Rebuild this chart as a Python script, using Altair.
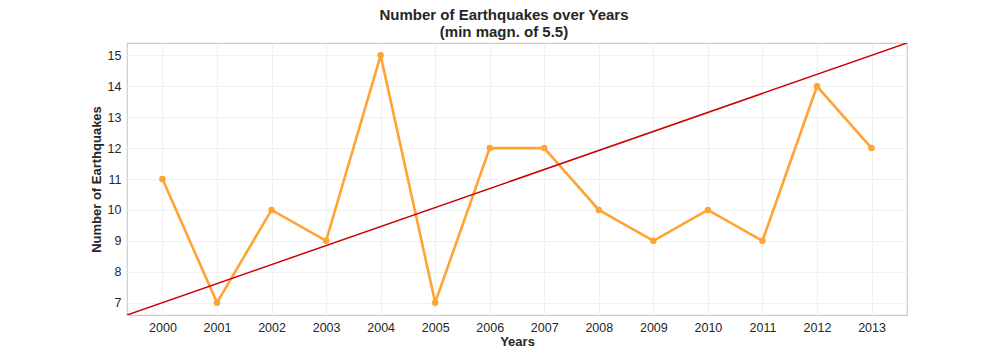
import altair as alt
import pandas as pd

years = [2000, 2001, 2002, 2003, 2004, 2005, 2006, 2007, 2008, 2009, 2010, 2011, 2012, 2013]
counts = [11, 7, 10, 9, 15, 7, 12, 12, 10, 9, 10, 9, 14, 12]
y_ticks = [7, 8, 9, 10, 11, 12, 13, 14, 15]
trend_x = [1999.35, 2013.65]
trend_y = [6.6, 15.4]

df = pd.DataFrame({"Years": years, "Count": counts})
tdf = pd.DataFrame({"Years": trend_x, "Count": trend_y})

xdom = [1999.35, 2013.65]
ydom = [6.6, 15.4]

FONT = "Liberation Sans"
TXT = "#262626"

xenc = alt.X("Years:Q", scale=alt.Scale(domain=xdom, nice=False, zero=False),
             axis=alt.Axis(values=years, format="d", title="Years", grid=True,
                           ticks=False, domain=False, labelPadding=6,
                           titlePadding=2, labelOverlap=False))
yenc = alt.Y("Count:Q", scale=alt.Scale(domain=ydom, nice=False, zero=False),
             axis=alt.Axis(values=y_ticks, title="Number of Earthquakes",
                           grid=True, ticks=False, domain=False, labelPadding=6,
                           titlePadding=4, labelOverlap=False, tickCount=9))

base = alt.Chart(df).encode(x=xenc, y=yenc)
line = base.mark_line(color="#FFA333", strokeWidth=2.6)
pts = base.mark_circle(color="#FFA333", size=42, opacity=1)
trend = alt.Chart(tdf).mark_line(color="#CC0000", strokeWidth=1.5, clip=True).encode(x=xenc, y=yenc)

chart = alt.layer(line, pts, trend).properties(
    width=780, height=272,
    title=alt.TitleParams(["Number of Earthquakes over Years", "(min magn. of 5.5)"],
                          fontSize=15, font=FONT, fontWeight="bold", color=TXT,
                          anchor="middle", offset=3, lineHeight=17, dx=-13),
    autosize=alt.AutoSizeParams(type="none"),
    padding={"left": 119, "top": 35, "right": 93, "bottom": 37},
).configure_view(stroke="#cccccc", strokeWidth=1.2).configure_axis(
    labelFont=FONT, labelFontSize=12.5, labelColor=TXT,
    titleFont=FONT, titleFontSize=13, titleColor=TXT, titleFontWeight="bold",
    gridColor="#f0f0f0", gridWidth=1.2,
)

chart.save("out.html", embed_options={"renderer": "svg", "actions": False})
